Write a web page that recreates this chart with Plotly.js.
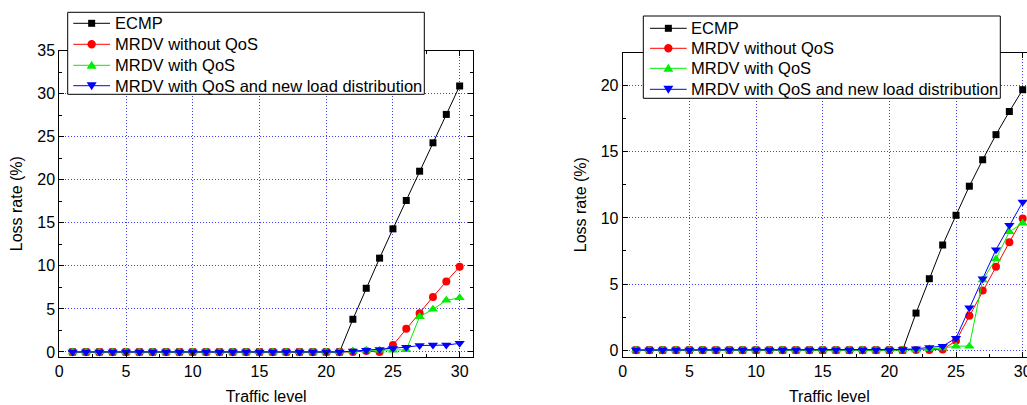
<!DOCTYPE html>
<html>
<head>
<meta charset="utf-8">
<script src="https://cdn.plot.ly/plotly-3.0.1.min.js"></script>
<style>html,body{margin:0;padding:0;overflow:hidden;background:#fff;}</style>
</head>
<body>
<div id="chart"></div>
<script>
// ---- data ----
var trafficLevel = [1,2,3,4,5,6,7,8,9,10,11,12,13,14,15,16,17,18,19,20,21,22,23,24,25,26,27,28,29,30];
var seriesNames = ["ECMP", "MRDV without QoS", "MRDV with QoS", "MRDV with QoS and new load distribution"];

// left panel
var ecmpLeft  = [0,0,0,0,0,0,0,0,0,0,0,0,0,0,0,0,0,0,0,0,0, 3.8,7.4,10.9,14.3,17.6,21.0,24.3,27.6,30.9];
var noQosLeft = [0,0,0,0,0,0,0,0,0,0,0,0,0,0,0,0,0,0,0,0,0, 0,0.1,0, 0.8,2.7,4.5,6.4,8.2,9.9];
var qosLeft   = [0,0,0,0,0,0,0,0,0,0,0,0,0,0,0,0,0,0,0,0,0, 0.1,0.2,0.2,0.2,0.25,4.1,4.95,6.0,6.3];
var qosNewLeft= [0,0,0,0,0,0,0,0,0,0,0,0,0,0,0,0,0,0,0,0,0, 0.1,0.2,0.3,0.4,0.55,0.75,0.8,0.8,1.0];

// right panel
var ecmpRight  = [0,0,0,0,0,0,0,0,0,0,0,0,0,0,0,0,0,0,0,0,0, 2.8,5.4,7.95,10.2,12.4,14.4,16.3,18.05,19.7];
var noQosRight = [0,0,0,0,0,0,0,0,0,0,0,0,0,0,0,0,0,0,0,0,0, 0,0,0.05,0.7,2.6,4.5,6.3,8.15,9.95];
var qosRight   = [0,0,0,0,0,0,0,0,0,0,0,0,0,0,0,0,0,0,0,0,0, 0,0.1,0.15,0.3,0.3,5.3,6.9,8.95,9.6];
var qosNewRight= [0,0,0,0,0,0,0,0,0,0,0,0,0,0,0,0,0,0,0,0,0.05, 0.1,0.2,0.3,0.9,3.2,5.4,7.6,9.45,11.2];

var xTicks = [0,5,10,15,20,25,30];
var yTicksLeft = [0,5,10,15,20,25,30,35];
var yTicksRight = [0,5,10,15,20];

// ---- styles ----
var colors = ["#000000", "#ff0000", "#00ee00", "#0000ff"];
var symbols = ["square", "circle", "triangle-up", "triangle-down"];
var sizes = [7, 8, 9, 9];

function mk(y, i, xa, ya) {
  return {
    x: trafficLevel, y: y, type: "scatter", mode: "lines+markers",
    name: seriesNames[i], xaxis: xa, yaxis: ya, showlegend: false,
    line: {color: colors[i], width: 1},
    marker: {symbol: symbols[i], color: colors[i], size: sizes[i], line: {width: 0}},
    cliponaxis: false
  };
}

var traces = [
  mk(ecmpLeft, 0, "x", "y"),
  mk(noQosLeft, 1, "x", "y"),
  mk(qosLeft, 2, "x", "y"),
  mk(qosNewLeft, 3, "x", "y"),
  mk(ecmpRight, 0, "x2", "y2"),
  mk(noQosRight, 1, "x2", "y2"),
  mk(qosRight, 2, "x2", "y2"),
  mk(qosNewRight, 3, "x2", "y2")
];

var W = 1040, H = 405;
var font = {family: "Arial, 'Liberation Sans', sans-serif", size: 16, color: "#000"};
var legendFont = {family: "Arial, 'Liberation Sans', sans-serif", size: 16.5, color: "#000"};
var gridDash = "1px,2px";

function xax(domain, anchor) {
  return {
    domain: domain, range: [0, 31], tickvals: xTicks, ticktext: xTicks.map(String), anchor: anchor,
    showline: true, linecolor: "#000", linewidth: 1, mirror: "ticks",
    ticks: "inside", ticklen: 5, tickcolor: "#000",
    minor: {dtick: 2.5, tick0: 0, ticks: "inside", ticklen: 3, tickcolor: "#000", showgrid: false},
    showgrid: true, gridcolor: "#3f3fff", griddash: gridDash, gridwidth: 1,
    zeroline: false, tickfont: font,
    title: {text: "Traffic level", font: font, standoff: 14}
  };
}
function yax(domain, range, tickvals, anchor) {
  return {
    domain: domain, range: range, tickvals: tickvals, anchor: anchor,
    showline: true, linecolor: "#000", linewidth: 1, mirror: "ticks",
    ticks: "inside", ticklen: 5, tickcolor: "#000",
    minor: {dtick: 2.5, tick0: 0, ticks: "inside", ticklen: 3, tickcolor: "#000", showgrid: false},
    showgrid: true, gridcolor: "#3f3fff", griddash: gridDash, gridwidth: 1,
    zeroline: false, tickfont: font,
    title: {text: "Loss rate (%)", font: font, standoff: 10}
  };
}

// ---- custom legends (pixel geometry) ----
var shapes = [], annotations = [];
function px(x) { return x / W; }
function py(y) { return 1 - y / H; }
function legendBox(box, lineX0, lineX1, textX, rowsY) {
  shapes.push({type: "rect", xref: "paper", yref: "paper", layer: "above",
    x0: px(box[0]), x1: px(box[1]), y0: py(box[2]), y1: py(box[3]),
    fillcolor: "#fff", line: {color: "#000", width: 1}});
  var mx = (lineX0 + lineX1) / 2;
  for (var i = 0; i < seriesNames.length; i++) {
    var yy = rowsY[i];
    shapes.push({type: "line", xref: "paper", yref: "paper", layer: "above",
      x0: px(lineX0), x1: px(lineX1), y0: py(yy), y1: py(yy),
      line: {color: colors[i], width: 1}});
    var base = {xref: "paper", yref: "paper", layer: "above",
      xsizemode: "pixel", ysizemode: "pixel", xanchor: px(mx), yanchor: py(yy),
      fillcolor: colors[i], line: {width: 0}};
    if (symbols[i] === "square") {
      shapes.push(Object.assign({type: "rect", x0: -3.5, x1: 3.5, y0: -3.5, y1: 3.5}, base));
    } else if (symbols[i] === "circle") {
      shapes.push(Object.assign({type: "circle", x0: -4.2, x1: 4.2, y0: -4.2, y1: 4.2}, base));
    } else if (symbols[i] === "triangle-up") {
      shapes.push(Object.assign({type: "path", path: "M-5,-3.5 L5,-3.5 L0,4.5 Z"}, base));
    } else {
      shapes.push(Object.assign({type: "path", path: "M-5,3.5 L5,3.5 L0,-4.5 Z"}, base));
    }
    annotations.push({xref: "paper", yref: "paper", x: px(textX), y: py(yy),
      xanchor: "left", yanchor: "middle", showarrow: false, text: seriesNames[i],
      font: legendFont, borderpad: 0});
  }
}
legendBox([67.7, 424.3, 12.3, 94.3], 73.3, 110, 114, [23.3, 44.3, 65.3, 85.7]);
legendBox([643.3, 1000.3, 16, 98.3], 650, 686.7, 690, [28.3, 48.3, 68.3, 89.3]);

var layout = {
  width: W, height: H,
  margin: {l: 0, r: 0, t: 0, b: 0},
  paper_bgcolor: "#fff", plot_bgcolor: "#fff",
  font: font,
  showlegend: false,
  xaxis: xax([59.3/W, 473/W], "y"),
  yaxis: yax([1-356.7/H, 1-50.7/H], [-0.55, 35], yTicksLeft, "x"),
  xaxis2: xax([622.7/W, 1036/W], "y2"),
  yaxis2: yax([1-356.7/H, 1-52.7/H], [-0.5, 22.5], yTicksRight, "x2"),
  shapes: shapes,
  annotations: annotations
};

Plotly.newPlot("chart", traces, layout, {displayModeBar: false, staticPlot: true});
</script>
</body>
</html>
